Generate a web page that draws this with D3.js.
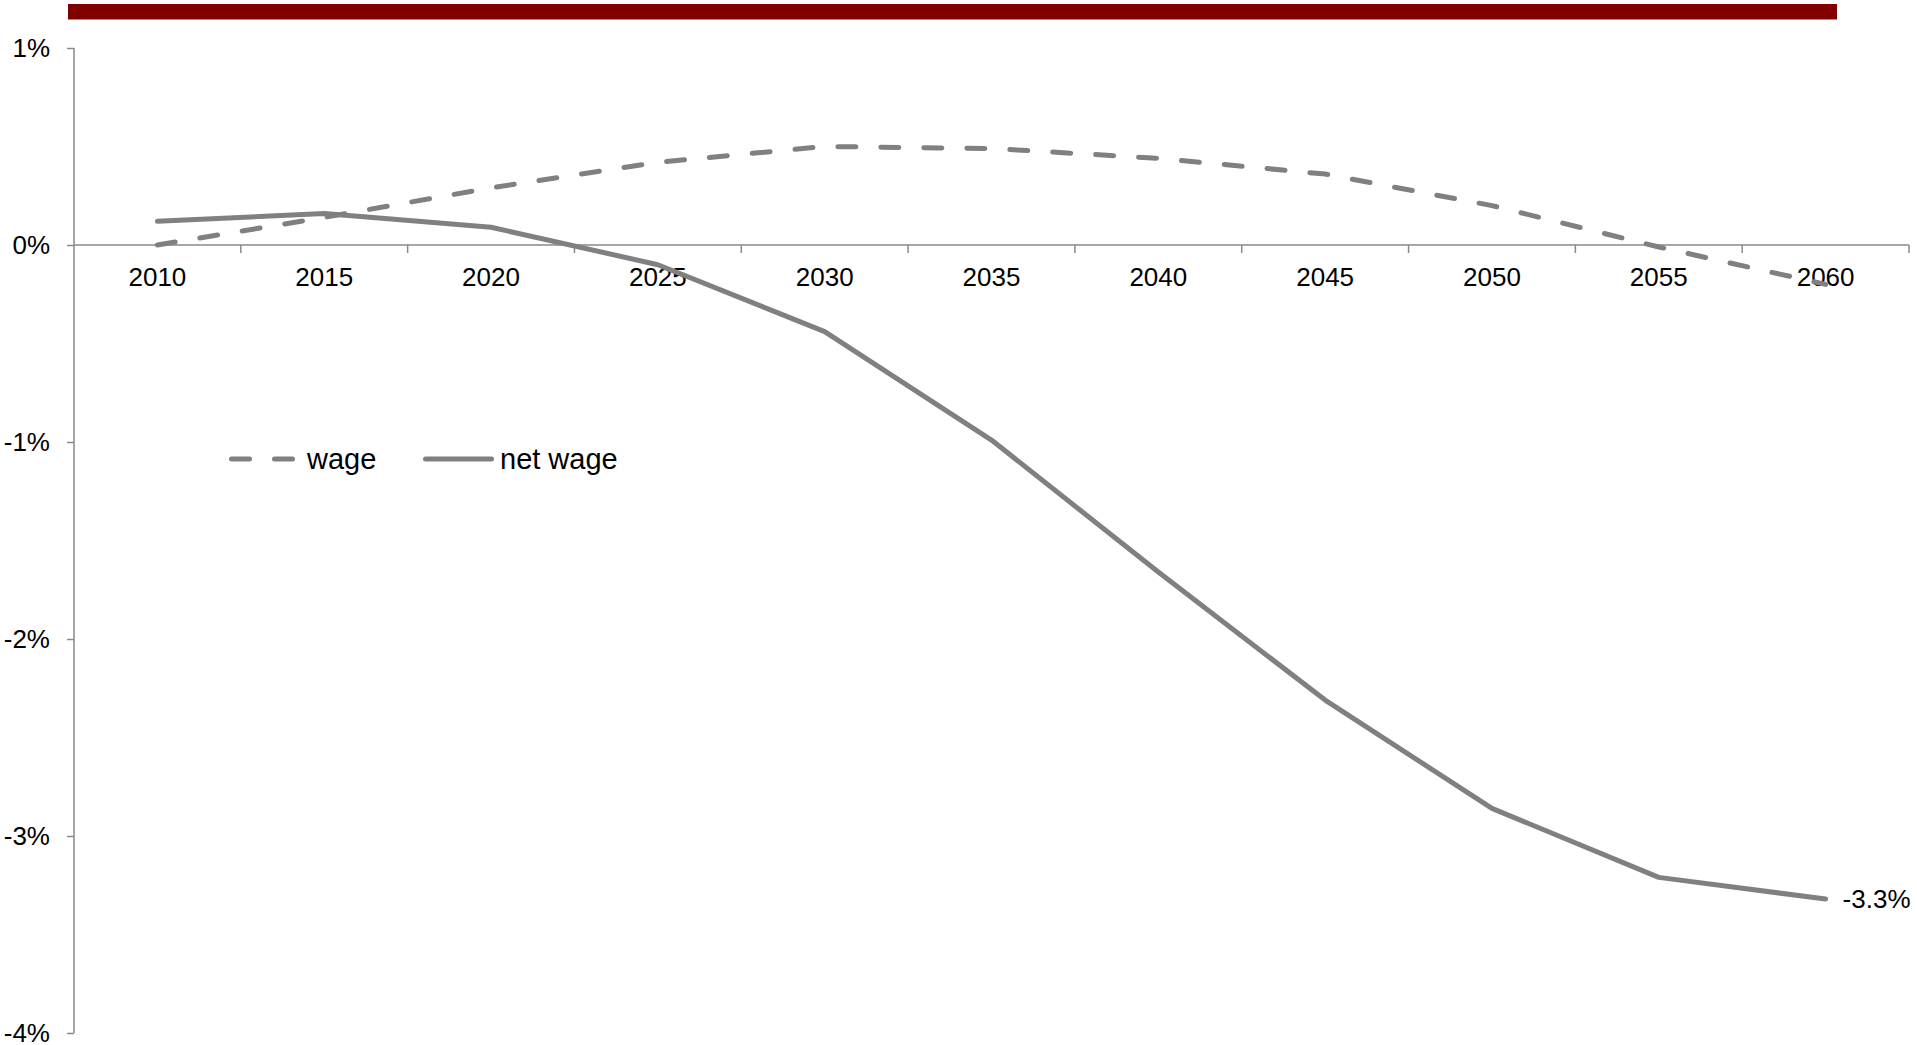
<!DOCTYPE html>
<meta charset="utf-8">
<style>
body { margin: 0; background: #fff; }
svg { display: block; font-family: "Liberation Sans", Arial, sans-serif; }
.axis path, .axis line { stroke: #898989; stroke-width: 1.5; }
.axis text { font-size: 26px; fill: #000; font-family: "Liberation Sans", Arial, sans-serif; }
.series { fill: none; stroke: #808080; stroke-width: 5; stroke-linejoin: round; }
.legend text { font-size: 29px; fill: #000; }
</style>
<svg width="1917" height="1045"></svg>
<script src="https://d3js.org/d3.v7.min.js"></script>
<script>

let years = ["2010", "2015", "2020", "2025", "2030", "2035", "2040", "2045", "2050", "2055", "2060"];
let wage = [0, 0.14, 0.29, 0.42, 0.50, 0.49, 0.44, 0.36, 0.20, -0.01, -0.20];
let netWage = [0.12, 0.16, 0.09, -0.10, -0.44, -0.99, -1.66, -2.31, -2.86, -3.21, -3.32];
let yTicks = [-4, -3, -2, -1, 0, 1];
let seriesNames = ["wage", "net wage"];

let svg = d3.select("svg");

// dark red band at the top
svg.append("rect")
	.attr("x", 68).attr("y", 4)
	.attr("width", 1769).attr("height", 15.5)
	.attr("fill", "#800000");

let x = d3.scaleBand().domain(years).range([74, 1909]).paddingInner(0).paddingOuter(0);
let y = d3.scaleLinear().domain([-4, 1]).range([1033, 48]);
let cx = d => x(d) + x.bandwidth() / 2;

// y axis
svg.append("g")
	.attr("class", "axis")
	.attr("transform", "translate(74,0)")
	.call(d3.axisLeft(y).tickValues(yTicks).tickFormat(d => d + "%").tickSize(7).tickPadding(17).tickSizeOuter(0))
	.call(g => g.select(".domain").attr("d", "M0," + y(1) + "V" + y(-4)));

// x axis at zero: labels centred in bands, ticks at band edges
let xa = svg.append("g")
	.attr("class", "axis")
	.attr("transform", "translate(0," + y(0) + ")");
xa.call(d3.axisBottom(x).tickSize(0).tickPadding(23));
xa.select(".domain").attr("d", "M74,0H1909");
xa.selectAll(".edge")
	.data(years.map(d => x(d) + x.bandwidth()))
	.enter().append("line")
	.attr("class", "edge")
	.attr("x1", d => d).attr("x2", d => d)
	.attr("y1", 0).attr("y2", 8);

let line = d3.line().x((d, i) => cx(years[i])).y(d => y(d));

svg.append("path")
	.attr("class", "series")
	.attr("d", line(wage))
	.attr("stroke-dasharray", "18,25")
	.attr("stroke-linecap", "round");

svg.append("path")
	.attr("class", "series")
	.attr("d", line(netWage))
	.attr("stroke-linecap", "round");

// end label
let last = netWage[netWage.length - 1];
svg.append("text")
	.attr("x", cx(years[years.length - 1]) + 17)
	.attr("y", y(last))
	.attr("dy", "0.35em")
	.style("font-size", "26px")
	.text(last.toFixed(1) + "%");

// legend
let legend = svg.append("g").attr("class", "legend");
let lg = [
	{ name: seriesNames[0], x0: 231.5, x1: 292.5, tx: 307, dash: "18,25" },
	{ name: seriesNames[1], x0: 425.5, x1: 491.5, tx: 500, dash: null }
];
lg.forEach(l => {
	legend.append("path")
		.attr("class", "series")
		.attr("d", "M" + l.x0 + ",459H" + l.x1)
		.attr("stroke-linecap", "round")
		.attr("stroke-dasharray", l.dash);
	legend.append("text")
		.attr("x", l.tx).attr("y", 459).attr("dy", "0.35em")
		.text(l.name);
});

</script>
